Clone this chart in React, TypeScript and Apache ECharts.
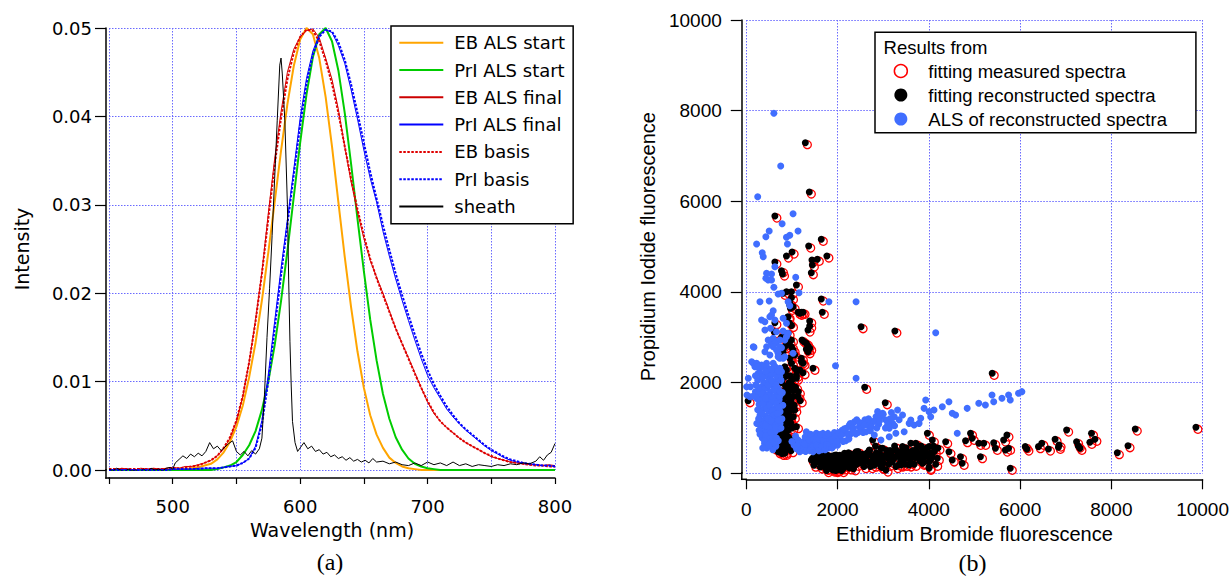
import React, { useEffect, useRef } from "react";
import * as echarts from "echarts";

// ---------- Panel (a): spectra ----------
const wavelengths = [
  450, 455, 460, 465, 470, 475, 480, 485, 490, 495,
  500, 505, 510, 515, 520, 525, 530, 535, 540, 545,
  550, 555, 560, 565, 570, 575, 580, 585, 590, 595,
  600, 605, 610, 615, 620, 625, 630, 635, 640, 645,
  650, 655, 660, 665, 670, 675, 680, 685, 690, 695,
  700, 705, 710, 715, 720, 725, 730, 735, 740, 745,
  750, 755, 760, 765, 770, 775, 780, 785, 790, 795,
  800,
];

const ebAlsStart = [
  0, 0, 0, 0, 0, 0, 0, 0, 0, 0,
  0, 0.0001, 0.0001, 0.0002, 0.0003, 0.0005, 0.0007, 0.0012, 0.002, 0.0032,
  0.0049, 0.0073, 0.0105, 0.0144, 0.0192, 0.0246, 0.0303, 0.0361, 0.0414, 0.0457,
  0.0487, 0.05, 0.0493, 0.0466, 0.0422, 0.0366, 0.0303, 0.0241, 0.0184, 0.0134,
  0.0093, 0.0062, 0.004, 0.0025, 0.0014, 0.0008, 0.0004, 0.0002, 0.0001, 0,
  0, 0, 0, 0, 0, 0, 0, 0, 0, 0,
  0, 0, 0, 0, 0, 0, 0, 0, 0, 0,
  0,
];

const priAlsStart = [
  0, 0, 0, 0, 0, 0, 0, 0, 0, 0,
  0, 0, 0, 0, 0, 0, 0, 0.0001, 0.0003, 0.0005,
  0.0009, 0.0017, 0.0028, 0.0044, 0.0068, 0.01, 0.0141, 0.0191, 0.0248, 0.0309,
  0.037, 0.0425, 0.0467, 0.0493, 0.05, 0.0485, 0.0452, 0.0404, 0.0346, 0.0284,
  0.0225, 0.017, 0.0124, 0.0086, 0.0058, 0.0037, 0.0023, 0.0013, 0.0007, 0.0004,
  0.0002, 0.0001, 0, 0, 0, 0, 0, 0, 0, 0,
  0, 0, 0, 0, 0, 0, 0, 0, 0, 0,
  0,
];

const ebAlsFinal = [
  0.0001, 0.0, 0.0002, 0.0001, 0.0, 0.0002, 0.0001, 0.0002, 0.0001, 0.0002,
  0.0003, 0.0002, 0.0004, 0.0004, 0.0006, 0.0008, 0.0011, 0.0016, 0.0024, 0.0036,
  0.0055, 0.0083, 0.0122, 0.017, 0.0224, 0.029, 0.0352, 0.0405, 0.045, 0.0476,
  0.049, 0.0497, 0.0499, 0.0489, 0.0466, 0.0442, 0.0408, 0.0366, 0.0326, 0.0292,
  0.0262, 0.0237, 0.0218, 0.02, 0.018, 0.016, 0.0143, 0.0127, 0.011, 0.0093,
  0.0077, 0.0064, 0.0055, 0.0048, 0.0042, 0.0036, 0.0031, 0.0027, 0.0023, 0.0019,
  0.0015, 0.0013, 0.0011, 0.0009, 0.0008, 0.0007, 0.0006, 0.0006, 0.0005, 0.0006,
  0.0005,
];

const priAlsFinal = [
  0, 0.0001, 0, 0.0001, 0, 0, 0.0001, 0, 0.0001, 0,
  0.0001, 0.0001, 0.0001, 0.0001, 0.0002, 0.0002, 0.0002, 0.0002, 0.0003, 0.0004,
  0.0005, 0.0008, 0.0013, 0.0027, 0.0056, 0.0108, 0.0168, 0.0228, 0.0283, 0.034,
  0.0398, 0.0443, 0.0474, 0.0492, 0.0498, 0.0495, 0.048, 0.046, 0.043, 0.0397,
  0.0362, 0.033, 0.0303, 0.027, 0.0242, 0.0216, 0.0192, 0.0169, 0.0147, 0.0126,
  0.0107, 0.0093, 0.0081, 0.0069, 0.006, 0.0052, 0.0045, 0.0039, 0.0033, 0.0027,
  0.0022, 0.0018, 0.0014, 0.0011, 0.0009, 0.0008, 0.0007, 0.0006, 0.0005, 0.0005,
  0.0004,
];

const ebBasis = [
  0.0001, 0.0001, 0.0001, 0.0001, 0.0001, 0.0001, 0.0001, 0.0001, 0.0001, 0.0001,
  0.0002, 0.0002, 0.0003, 0.0004, 0.0005, 0.0008, 0.0011, 0.0016, 0.0025, 0.0037,
  0.0056, 0.0084, 0.0122, 0.0168, 0.0222, 0.0284, 0.0345, 0.0398, 0.0442, 0.0472,
  0.049, 0.0498, 0.0497, 0.0485, 0.0463, 0.0437, 0.0404, 0.0366, 0.0329, 0.0295,
  0.0265, 0.0239, 0.0217, 0.0198, 0.0179, 0.016, 0.0143, 0.0126, 0.0109, 0.0093,
  0.0078, 0.0065, 0.0055, 0.0048, 0.0042, 0.0036, 0.0031, 0.0027, 0.0023, 0.0019,
  0.0016, 0.0013, 0.0011, 0.0009, 0.0008, 0.0007, 0.0006, 0.0005, 0.0005, 0.0004,
  0.0004,
];

const priBasis = [
  0, 0, 0, 0, 0, 0, 0, 0, 0, 0,
  0.0001, 0.0001, 0.0001, 0.0001, 0.0001, 0.0002, 0.0002, 0.0002, 0.0003, 0.0004,
  0.0005, 0.0008, 0.0013, 0.0025, 0.0052, 0.01, 0.016, 0.022, 0.0278, 0.0334,
  0.039, 0.0437, 0.047, 0.049, 0.0498, 0.0496, 0.0484, 0.0464, 0.0436, 0.0404,
  0.037, 0.0337, 0.0307, 0.0277, 0.0249, 0.0222, 0.0198, 0.0175, 0.0153, 0.0132,
  0.0113, 0.0097, 0.0084, 0.0072, 0.0062, 0.0053, 0.0046, 0.004, 0.0034, 0.0028,
  0.0023, 0.0019, 0.0015, 0.0012, 0.001, 0.0008, 0.0007, 0.0006, 0.0005, 0.0005,
  0.0004,
];

// sheath: [wavelength, intensity]
const sheath = [
  [450, 0.0001], [453, -0.0001], [456, 0.0002], [459, 0.0], [462, -0.0002], [465, 0.0001],
  [468, -0.0001], [471, 0.0], [474, -0.0003], [477, 0.0001], [480, -0.0002], [483, 0.0002],
  [486, 0.0], [489, 0.0001], [492, -0.0001], [495, 0.0002], [498, 0.0003], [500, 0.0001],
  [502, 0.0008], [505, 0.0012], [508, 0.0016], [511, 0.0013], [514, 0.0018], [517, 0.0015],
  [520, 0.0019], [523, 0.0016], [526, 0.0021], [529, 0.0031], [532, 0.0024], [535, 0.0027],
  [538, 0.0022], [541, 0.0026], [544, 0.003], [547, 0.0033], [550, 0.0021], [553, 0.0017],
  [556, 0.0021], [559, 0.0016], [562, 0.0022], [565, 0.0018], [568, 0.0024], [570, 0.0036],
  [572, 0.0085], [574, 0.015], [576, 0.0205], [578, 0.0265], [580, 0.033], [582, 0.0395],
  [584, 0.0458], [585, 0.0466], [586, 0.0448], [588, 0.0395], [590, 0.03], [591, 0.0215],
  [592, 0.0145], [593, 0.0095], [594, 0.0055], [596, 0.0031], [598, 0.0021], [600, 0.0025],
  [603, 0.0031], [606, 0.0024], [609, 0.0027], [612, 0.0021], [615, 0.0023], [618, 0.0018],
  [621, 0.002], [624, 0.0015], [627, 0.0017], [630, 0.0013], [633, 0.0015], [636, 0.0011],
  [639, 0.0014], [642, 0.001], [645, 0.0012], [648, 0.0009], [651, 0.0011], [654, 0.0008],
  [657, 0.0013], [660, 0.0009], [665, 0.001], [670, 0.0007], [675, 0.0009], [680, 0.0006],
  [685, 0.0005], [690, 0.0008], [695, 0.0005], [700, 0.0009], [705, 0.0006], [710, 0.0008],
  [715, 0.0005], [720, 0.0009], [725, 0.0005], [730, 0.0007], [735, 0.0004], [740, 0.0006],
  [745, 0.0005], [750, 0.0004], [755, 0.0006], [760, 0.0005], [765, 0.0007], [770, 0.0006],
  [775, 0.0008], [780, 0.0007], [785, 0.001], [788, 0.0015], [791, 0.0011], [794, 0.0017],
  [797, 0.002], [800, 0.003],
];

const spectraNames = [
  "EB ALS start", "PrI ALS start", "EB ALS final", "PrI ALS final",
  "EB basis", "PrI basis", "sheath",
];
const xTicksA = [500, 600, 700, 800];

// ---------- Panel (b): scatter [EB, PrI] ----------
const fitReconstructed = [
  [1294, 7294], [1381, 6206], [626, 5676], [1643, 5162], [1367, 5014], [1766, 4794], [880, 4794], [1003, 4882], [626, 4661],
  [1439, 4705], [1447, 4595], [1556, 4721], [1425, 4425], [771, 4470], [793, 4397], [989, 4006], [1098, 4154], [807, 3971],
  [880, 4006], [1643, 3845], [1665, 3552], [989, 3874], [953, 3750], [967, 3640], [1134, 3552], [1207, 3552], [1243, 3552],
  [902, 3441], [938, 3322], [1389, 3360], [1389, 3249], [1352, 3161], [989, 3263], [626, 3322], [611, 3124], [2515, 3234],
  [3256, 3139], [771, 3000], [844, 3051], [938, 2890], [989, 2941], [1221, 2941], [1265, 2904], [1352, 2808], [1316, 2735],
  [844, 2793], [807, 2683], [1025, 2720], [1062, 2610], [1207, 2537], [1243, 2427], [1461, 2316], [989, 2427], [1062, 2316],
  [1171, 2279], [1243, 2219], [844, 2352], [807, 2219], [953, 3713], [1025, 3676], [1171, 3530], [916, 3455], [916, 3088],
  [807, 3013], [1317, 2868], [1389, 2758], [1352, 2683], [881, 2868], [989, 2793], [1025, 2647], [953, 2537], [1208, 2462],
  [1099, 2279], [1099, 2168], [881, 2279], [844, 2131], [772, 2241],
  [2594, 1897], [5389, 2206], [3045, 1557], [39, 1602],
  [916, 1911], [1062, 1838], [1134, 1690], [807, 1617], [916, 1470], [1062, 1397], [807, 1249], [953, 1176], [1099, 1029],
  [807, 955], [916, 808], [989, 662], [772, 588], [698, 477], [626, 552], [844, 441],
  [720, 500], [780, 440], [850, 480], [900, 560], [760, 620], [820, 700], [880, 650], [950, 760], [780, 820], [860, 880],
  [920, 950], [800, 1000], [870, 1080], [940, 1150], [810, 1220], [890, 1300], [960, 1380], [830, 1450], [900, 1530],
  [980, 1600], [850, 1680], [920, 1760], [1000, 1840], [860, 1920], [940, 2000], [1020, 2080], [880, 2150], [820, 1350],
  [840, 1750], [950, 1250], [1000, 1000], [1050, 1500], [770, 1100], [760, 1600], [780, 2000], [1080, 1900], [700, 1300],
  [720, 900], [1020, 700], [980, 500],
  [730, 750], [790, 560], [830, 590], [870, 760], [930, 700], [760, 950], [840, 1010], [900, 1100], [980, 1100],
  [750, 1250], [860, 1200], [1030, 1250], [780, 1400], [880, 1400], [980, 1500], [800, 1550], [940, 1650], [1030, 1700],
  [790, 1800], [900, 1850], [1000, 1950], [800, 2100], [960, 2150], [1100, 2100], [1140, 1800], [1180, 1600],
  [1425, 293], [1534, 367], [1679, 221], [1825, 184], [1970, 221], [2115, 257], [2260, 367], [1825, 367], [1970, 404],
  [2152, 441], [1679, 331], [2043, 110], [1897, 73], [1752, 110], [2406, 477], [2551, 367], [2697, 514], [2842, 404],
  [2987, 552], [2915, 293], [3133, 367], [3278, 514], [3424, 588], [3569, 441], [3714, 662], [3860, 514], [4005, 588],
  [4078, 367], [4005, 110], [3061, 73], [2951, 147], [2769, 735],
  [1450, 330], [1500, 250], [1550, 380], [1600, 300], [1650, 200], [1650, 420], [1700, 150], [1700, 330], [1750, 250],
  [1780, 400], [1800, 120], [1820, 300], [1850, 200], [1880, 380], [1900, 100], [1920, 260], [1950, 180], [1980, 330],
  [2000, 80], [2020, 230], [2050, 400], [2080, 150], [2100, 300], [2130, 220], [2160, 380], [2200, 180], [2230, 300],
  [2260, 120], [2300, 420], [2330, 250], [2380, 350], [2420, 200], [2450, 480], [2500, 300], [2550, 420], [2580, 150],
  [2620, 350], [2680, 250], [2700, 500], [2750, 380], [2800, 180], [2850, 450], [2900, 300], [2950, 550], [3000, 220],
  [3050, 400], [3100, 330], [3150, 500], [3200, 250], [3250, 600], [3300, 380], [3350, 200], [3400, 480], [3450, 300],
  [3500, 560], [3550, 380], [3600, 250], [3650, 500], [3700, 350], [3750, 620], [3800, 280], [3850, 450], [3900, 350],
  [3950, 560], [4000, 250], [4050, 450], [4100, 600],
  [1480, 180], [1560, 260], [1620, 140], [1720, 380], [1760, 60], [1840, 260], [1870, 140], [1940, 400], [1960, 60],
  [2060, 330], [2090, 60], [2140, 120], [2190, 270], [2240, 450], [2290, 190], [2350, 100], [2400, 300], [2470, 380],
  [2520, 230], [2600, 270], [2650, 450], [2720, 150], [2780, 300], [2830, 600], [2880, 220], [2930, 420], [2980, 130],
  [3020, 350], [3080, 500], [3120, 200], [3180, 420], [3230, 320], [3280, 150], [3330, 450], [3380, 300], [3420, 380],
  [3480, 200], [3530, 480], [3580, 320], [3630, 400], [3680, 200], [3730, 440], [3780, 380], [3830, 600], [3880, 240],
  [3930, 470], [3980, 380], [4040, 300], [4120, 480], [4150, 200], [4200, 560],
  [7020, 955], [8524, 977], [9854, 1015], [8365, 609], [8131, 455], [7565, 882], [7639, 750], [7530, 684], [7238, 697],
  [7312, 552], [7275, 602], [6767, 750], [6854, 624], [6840, 574], [6621, 536], [6403, 588], [6476, 662], [6113, 588],
  [6149, 536], [5712, 845], [5640, 735], [5748, 552], [5785, 110], [5677, 514], [5459, 552], [5422, 675], [5204, 662],
  [5095, 662], [5131, 367], [4914, 882], [4805, 720], [4950, 772], [4731, 221], [4694, 367], [4513, 294], [4441, 477],
  [4369, 697], [4077, 735], [4186, 331], [4005, 132], [3968, 882], [3859, 221], [3715, 514], [3606, 662], [3497, 441],
  [3388, 184], [3569, 184],
];
// the measured-spectra fits coincide with the reconstructed ones in the picture
const fitMeasured = fitReconstructed;

const alsReconstructed = [
  [604, 7942], [754, 6779], [250, 6100], [1025, 5727], [785, 5506], [502, 5345], [429, 5219], [1134, 5345], [880, 5206],
  [953, 5250], [902, 5058], [226, 5058], [349, 4866], [371, 4778], [626, 4558], [444, 4412], [553, 4397], [429, 4302],
  [480, 4264], [553, 4264], [1083, 4324], [604, 4103], [698, 3955], [771, 3971], [1156, 3984], [299, 3786], [502, 3801],
  [916, 3786], [953, 3698], [1810, 3786], [2406, 3786], [589, 3587], [553, 3492], [626, 3382], [335, 3382], [407, 3345],
  [807, 3419], [880, 3309], [531, 3199], [662, 3124], [807, 3139], [916, 3088], [880, 3013], [844, 2941], [589, 2978],
  [553, 2868], [662, 2904], [168, 2780], [771, 2771], [698, 2647], [734, 2537], [844, 2573], [1955, 2374], [153, 2427],
  [262, 2389], [299, 2316], [189, 2353], [371, 2353], [444, 2427], [589, 2427], [626, 2353], [662, 2241], [262, 2206],
  [371, 2131], [517, 2169], [734, 2131], [2406, 2096], [4151, 3102],
  [517, 3455], [408, 3161], [735, 2941], [480, 2941], [626, 2868], [445, 2793], [589, 2793], [735, 2793], [662, 2720],
  [408, 2683], [517, 2610], [698, 2573], [807, 2537], [1025, 2647], [153, 2793], [118, 2462], [226, 2427], [335, 2389],
  [444, 2352], [517, 2241], [735, 2316], [771, 2241], [44, 2096], [8, 1911], [80, 1690], [15, 1727], [91, 1911],
  [300, 2200], [420, 2150], [560, 2180], [680, 2120], [250, 2050], [380, 2000], [500, 2060], [630, 2010], [760, 2050],
  [320, 1900], [450, 1880], [580, 1930], [700, 1870], [260, 1780], [400, 1750], [530, 1800], [660, 1740], [790, 1780],
  [330, 1650], [460, 1620], [600, 1680], [720, 1620], [280, 1520], [410, 1500], [540, 1550], [670, 1490], [350, 1400],
  [480, 1380], [610, 1420], [740, 1360], [300, 1280], [430, 1260], [560, 1300], [690, 1240], [360, 1150], [490, 1130],
  [620, 1170], [740, 1100], [320, 1030], [450, 1000], [580, 1050], [700, 980], [370, 900], [500, 880], [630, 920],
  [350, 780], [470, 760], [600, 800], [700, 720], [400, 660], [530, 640], [650, 600], [450, 560], [580, 520], [360, 560],
  [250, 1400], [230, 1650], [200, 1800], [800, 1500], [780, 1200], [250, 2350], [150, 1700], [420, 2250], [550, 2300],
  [230, 1100], [280, 950], [310, 1180], [340, 1320], [390, 1080], [420, 940], [440, 1440], [470, 1210], [510, 1500],
  [520, 1000], [550, 1160], [570, 1380], [590, 1600], [610, 1290], [640, 1060], [660, 1530], [680, 1320], [700, 1170],
  [720, 1450], [730, 1700], [610, 1850], [540, 1700], [470, 1720], [390, 1860], [330, 1770], [270, 1880], [210, 1950],
  [300, 1600], [360, 1540], [420, 1660], [480, 1950], [560, 2050], [650, 1950], [700, 2250], [350, 2120], [200, 2150],
  [300, 860], [420, 820], [520, 760], [560, 700], [400, 720], [490, 620], [620, 680], [660, 780], [540, 900], [640, 1000],
  [420, 1050], [270, 1200], [760, 1000], [740, 1800],
  [1134, 735], [1207, 587], [1316, 771], [1389, 624], [1170, 477], [1461, 477], [1570, 735], [1607, 587], [1752, 661],
  [1716, 771], [1825, 698], [1897, 587], [1970, 735], [2043, 808], [2152, 882], [2260, 1066], [2370, 1139], [2479, 1029],
  [2551, 1102], [2624, 918], [2697, 1029], [2769, 1139], [2842, 1249], [2878, 1360], [2987, 1323], [3060, 1176],
  [3133, 992], [3206, 1102], [3242, 1249], [3315, 1396], [3424, 1286], [3460, 918], [3569, 1102], [3605, 1176],
  [3678, 1066], [3787, 1102], [3823, 1213], [3932, 1617], [3896, 1433], [4005, 1360], [4041, 1249], [4114, 1396],
  [4296, 1470], [4441, 1580], [4514, 1323], [4623, 882], [4587, 1286], [4841, 1433], [5095, 1544], [5240, 1507],
  [5385, 1727], [5422, 1580], [5603, 1654], [5748, 1727], [5785, 1617], [5966, 1764], [6039, 1801], [3133, 808],
  [3278, 882], [2951, 735], [2806, 845], [1534, 882], [1316, 918],
  [1050, 620], [1100, 540], [1150, 660], [1200, 500], [1230, 690], [1260, 560], [1290, 800], [1340, 520], [1360, 680],
  [1420, 560], [1440, 800], [1500, 650], [1520, 540], [1560, 820], [1620, 660], [1650, 520], [1680, 880], [1700, 590],
  [1780, 720], [1800, 560], [1850, 820], [1900, 680], [1930, 900], [2000, 620], [2050, 760], [2100, 950], [2180, 720],
  [2200, 1000], [2300, 880], [2330, 980], [2420, 1180], [2450, 900], [2520, 1000], [2600, 1180], [2650, 1080],
  [2720, 940], [2800, 1150], [2900, 1080], [2950, 1250], [3050, 1000], [3150, 1200], [3250, 1050], [3350, 1180],
  [1000, 700], [1080, 820],
  [1270, 640], [1300, 480], [1330, 880], [1380, 740], [1400, 500], [1410, 860], [1470, 600], [1480, 740], [1530, 700],
  [1540, 620], [1590, 500], [1600, 760], [1630, 860], [1660, 600], [1690, 720], [1730, 520], [1740, 840], [1760, 630],
  [1790, 880], [1830, 620], [1870, 740], [1880, 560], [1950, 800], [1990, 700], [2020, 900], [2080, 840], [2120, 700],
  [2150, 980], [2230, 860], [2250, 760], [2280, 1100], [2350, 1000], [2400, 870], [2480, 1120], [2560, 900],
  [2580, 1060], [2680, 1200], [2740, 1020], [2860, 1000], [2920, 1160], [3000, 1300], [3100, 1080], [3180, 1340],
];

const scatterNames = [
  "fitting measured spectra",
  "fitting reconstructed spectra",
  "ALS of reconstructed spectra",
];
const ticksB = [0, 2000, 4000, 6000, 8000, 10000];

// ---------- styling ----------
const FONT_A = "DejaVu Sans";
const FONT_B = "Liberation Sans";
const gridLineStyle = { color: "#6a6aff", type: [1.5, 1.5], width: 1 };
const axisStroke = { stroke: "#000", lineWidth: 1.5 };

const zip = (vals: number[]) => wavelengths.map((w, i) => [w, vals[i]]);

function lineSeries(name: string, data: number[][], color: string, width: number, dotted = false) {
  return {
    name,
    type: "line",
    xAxisIndex: 0,
    yAxisIndex: 0,
    data,
    showSymbol: false,
    symbol: "none",
    lineStyle: { color, width, type: dotted ? [2.5, 1.5] : "solid" },
    itemStyle: { color },
    silent: true,
  };
}

function buildOption() {
  return {
    animation: false,
    backgroundColor: "#ffffff",
    grid: [
      { left: 109, top: 28, width: 446, height: 442 },
      { left: 746.3, top: 20, width: 458.7, height: 453.3 },
    ],
    xAxis: [
      {
        type: "value",
        gridIndex: 0,
        min: 450,
        max: 800,
        interval: 50,
        offset: 8,
        axisLine: { show: true, onZero: false, lineStyle: { color: "#000", width: 1.5 } },
        axisTick: { show: true, length: 6, lineStyle: { color: "#000", width: 1.2 } },
        axisLabel: {
          margin: 19,
          color: "#000",
          fontSize: 18,
          fontFamily: FONT_A,
          formatter: (v: number) => (xTicksA.includes(v) ? String(v) : ""),
        },
        splitLine: { show: true, lineStyle: gridLineStyle },
        name: "Wavelength (nm)",
        nameLocation: "middle",
        nameGap: 42,
        nameTextStyle: { color: "#000", fontSize: 19, fontFamily: FONT_A },
      },
      {
        type: "value",
        gridIndex: 1,
        min: 0,
        max: 10000,
        interval: 2000,
        offset: 6,
        axisLine: { show: true, onZero: false, lineStyle: { color: "#000", width: 1.5 } },
        axisTick: { show: true, length: 10, lineStyle: { color: "#000", width: 1.2 } },
        axisLabel: {
          margin: 21,
          color: "#000",
          fontSize: 19,
          fontFamily: FONT_B,
          formatter: (v: number) => (ticksB.includes(v) ? String(v) : ""),
        },
        splitLine: { show: true, lineStyle: gridLineStyle },
        name: "Ethidium Bromide fluorescence",
        nameLocation: "middle",
        nameGap: 42,
        nameTextStyle: { color: "#000", fontSize: 20, fontFamily: FONT_B },
      },
    ],
    yAxis: [
      {
        type: "value",
        gridIndex: 0,
        min: 0,
        max: 0.05,
        interval: 0.01,
        offset: 3,
        axisLine: { show: true, onZero: false, lineStyle: { color: "#000", width: 1.5 } },
        axisTick: { show: true, length: 11, lineStyle: { color: "#000", width: 1.2 } },
        axisLabel: {
          margin: 14,
          color: "#000",
          fontSize: 18,
          fontFamily: FONT_A,
          formatter: (v: number) => v.toFixed(2),
        },
        splitLine: { show: true, lineStyle: gridLineStyle },
        name: "Intensity",
        nameLocation: "middle",
        nameGap: 75,
        nameTextStyle: { color: "#000", fontSize: 19, fontFamily: FONT_A },
      },
      {
        type: "value",
        gridIndex: 1,
        min: 0,
        max: 10000,
        interval: 2000,
        offset: 4.5,
        axisLine: { show: true, onZero: false, lineStyle: { color: "#000", width: 1.5 } },
        axisTick: { show: true, length: 11, lineStyle: { color: "#000", width: 1.2 } },
        axisLabel: {
          margin: 20,
          color: "#000",
          fontSize: 19,
          fontFamily: FONT_B,
          formatter: (v: number) => (ticksB.includes(v) ? String(v) : ""),
        },
        splitLine: { show: true, lineStyle: gridLineStyle },
        name: "Propidium Iodide fluorescence",
        nameLocation: "middle",
        nameGap: 84,
        nameTextStyle: { color: "#000", fontSize: 20, fontFamily: FONT_B },
      },
    ],
    legend: [
      {
        orient: "vertical",
        left: 391,
        top: 26,
        data: spectraNames,
        itemWidth: 44,
        itemHeight: 14,
        itemGap: 5.3,
        padding: [5.7, 8, 6.3, 7.3],
        borderColor: "#000",
        borderWidth: 1.5,
        backgroundColor: "#fff",
        selectedMode: false,
        itemStyle: { color: "rgba(0,0,0,0)", borderWidth: 0, opacity: 0 },
        textStyle: { color: "#000", fontSize: 18, fontFamily: FONT_A, lineHeight: 22, padding: [0, 0, 0, 6] },
      },
      {
        orient: "vertical",
        left: 875,
        top: 32.3,
        data: [
          { name: scatterNames[0], icon: "circle", itemStyle: { color: "rgba(0,0,0,0)", borderColor: "#ff0000", borderWidth: 1.5, opacity: 1 } },
          { name: scatterNames[1], icon: "circle", itemStyle: { color: "#000", borderWidth: 0, opacity: 1 } },
          { name: scatterNames[2], icon: "circle", itemStyle: { color: "#406eff", borderWidth: 0, opacity: 1 } },
        ],
        itemWidth: 45,
        itemHeight: 13,
        itemGap: 4,
        padding: [28.7, 29, 3.7, 18.6],
        borderColor: "#000",
        borderWidth: 1.5,
        backgroundColor: "#fff",
        selectedMode: false,
        textStyle: { color: "#000", fontSize: 18.5, fontFamily: FONT_B, lineHeight: 20 },
      },
    ],
    graphic: [
      // axis corner joins (Igor-style offset axes meet at the corner)
      { type: "line", z: 50, shape: { x1: 106, y1: 469, x2: 106, y2: 478.75 }, style: axisStroke },
      { type: "line", z: 50, shape: { x1: 105.25, y1: 478, x2: 110, y2: 478 }, style: axisStroke },
      { type: "line", z: 50, shape: { x1: 741.8, y1: 472, x2: 741.8, y2: 480.05 }, style: axisStroke },
      { type: "line", z: 50, shape: { x1: 741.05, y1: 479.3, x2: 747, y2: 479.3 }, style: axisStroke },
      {
        type: "text",
        x: 883.6,
        y: 47.7,
        z: 100,
        style: { text: "Results from", font: `18.5px "${FONT_B}"`, fill: "#000", verticalAlign: "middle" },
      },
      {
        type: "text",
        x: 330,
        y: 562,
        z: 100,
        style: { text: "(a)", font: '24px "Liberation Serif"', fill: "#000", align: "center", verticalAlign: "middle" },
      },
      {
        type: "text",
        x: 972.5,
        y: 563,
        z: 100,
        style: { text: "(b)", font: '24px "Liberation Serif"', fill: "#000", align: "center", verticalAlign: "middle" },
      },
    ],
    series: [
      lineSeries(spectraNames[0], zip(ebAlsStart), "#ffa500", 2),
      lineSeries(spectraNames[1], zip(priAlsStart), "#00cc00", 2),
      lineSeries(spectraNames[2], zip(ebAlsFinal), "#cc0000", 1),
      lineSeries(spectraNames[3], zip(priAlsFinal), "#0000ff", 1),
      lineSeries(spectraNames[4], zip(ebBasis), "#e00000", 2, true),
      lineSeries(spectraNames[5], zip(priBasis), "#0000ff", 2, true),
      lineSeries(spectraNames[6], sheath, "#000000", 1),
      {
        name: scatterNames[0],
        type: "scatter",
        xAxisIndex: 1,
        yAxisIndex: 1,
        data: fitMeasured,
        symbol: "circle",
        symbolSize: 8,
        symbolOffset: [2, 2],
        itemStyle: { color: "rgba(0,0,0,0)", borderColor: "#ff0000", borderWidth: 1.3, opacity: 1 },
        silent: true,
      },
      {
        name: scatterNames[1],
        type: "scatter",
        xAxisIndex: 1,
        yAxisIndex: 1,
        data: fitReconstructed,
        symbol: "circle",
        symbolSize: 7,
        itemStyle: { color: "#000000", opacity: 1 },
        silent: true,
      },
      {
        name: scatterNames[2],
        type: "scatter",
        xAxisIndex: 1,
        yAxisIndex: 1,
        data: alsReconstructed,
        symbol: "circle",
        symbolSize: 7,
        itemStyle: { color: "#406eff", opacity: 1 },
        silent: true,
      },
    ],
  };
}

export default function App() {
  const ref = useRef<HTMLDivElement>(null);
  useEffect(() => {
    if (!ref.current) return;
    const chart = echarts.init(ref.current, null, { renderer: "svg" });
    chart.setOption(buildOption() as any);
    return () => chart.dispose();
  }, []);
  return (
    <div
      ref={ref}
      style={{ position: "absolute", left: 0, top: 0, width: 1232, height: 578, background: "#fff" }}
    />
  );
}
